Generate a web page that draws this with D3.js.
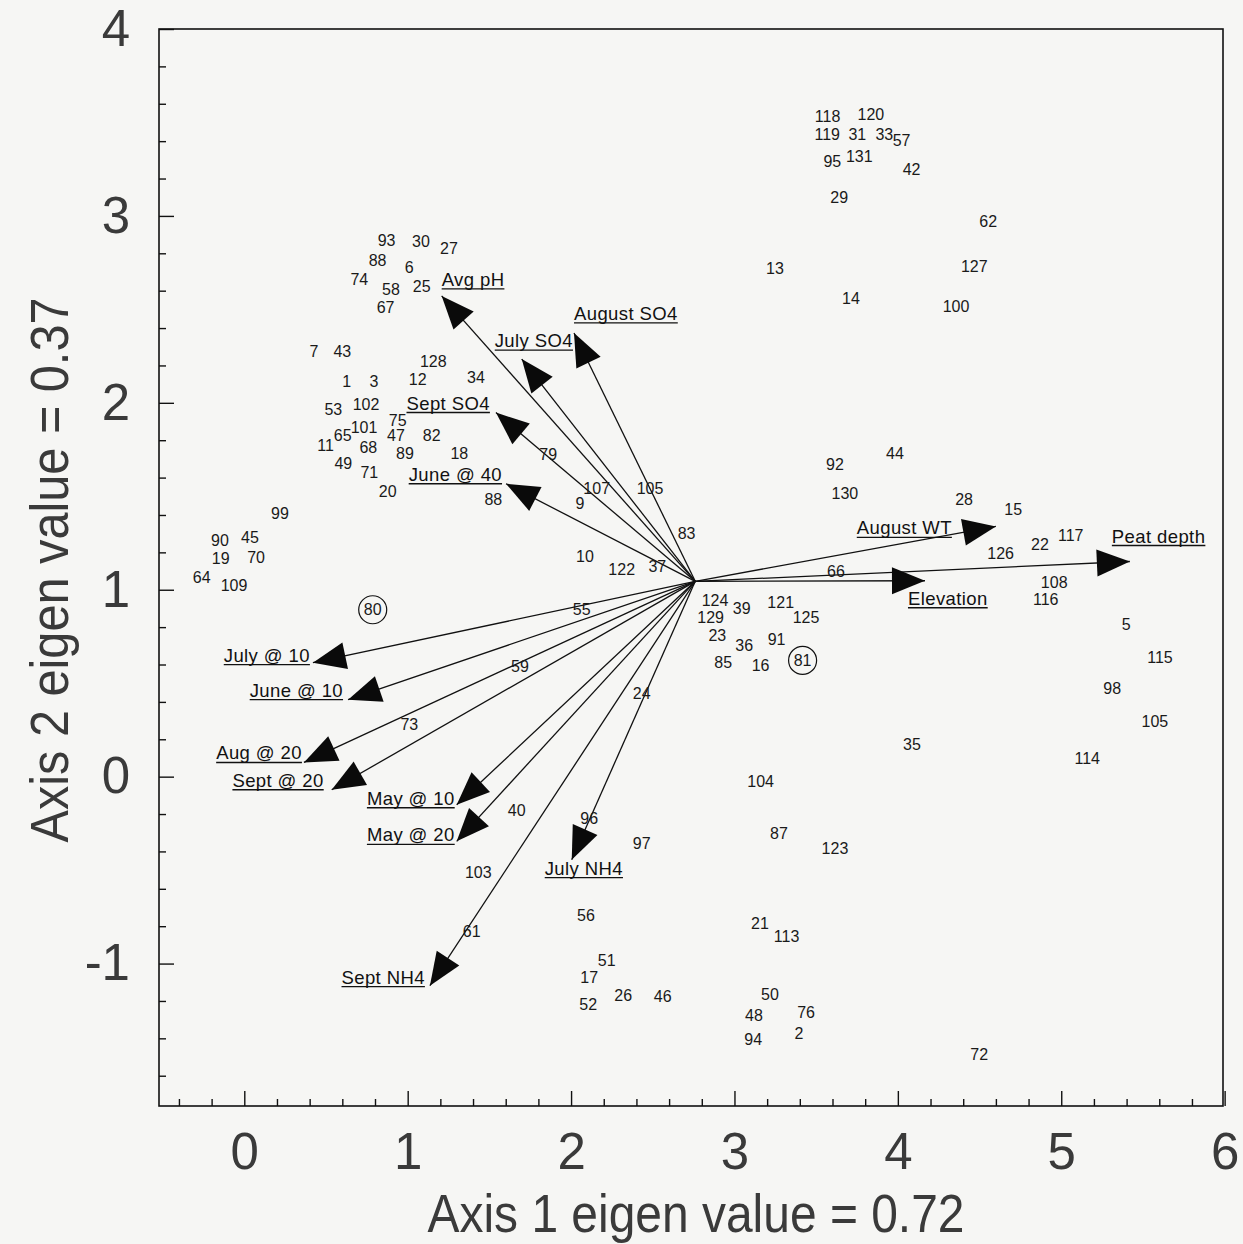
<!DOCTYPE html>
<html><head><meta charset="utf-8">
<script src="https://cdn.jsdelivr.net/npm/d3@7"></script>
<style>
html,body{margin:0;padding:0;background:#f6f6f4;}
svg{display:block;}
</style></head><body>
<svg id="chart" width="1243" height="1244"></svg>
<script>
// ---------- DATA ----------
const siteIds = ["118","120","119","31","33","57","95","131","42","29","62","13","127","14","100",
  "93","30","27","88","6","74","58","25","67","7","43","128","1","3","12","34","53","102","101","75",
  "65","47","82","11","68","89","18","79","49","71","20","88","99","90","45","19","70","64","109","80",
  "107","105","9","83","10","122","37","66","55","124","39","121","125","129","23","36","91","85","16","81",
  "24","59","73","104","40","96","97","87","123","103","56","21","113","61","51","17","26","46","52",
  "50","48","76","94","2",
  "92","44","130","28","15","126","22","117","108","116","5","115","98","105","35","114","72"];
const siteAxis1 = [3.570,3.835,3.568,3.752,3.917,4.023,3.599,3.764,4.084,3.641,4.553,3.248,4.468,3.713,4.356,
  0.871,1.081,1.253,0.816,1.010,0.704,0.898,1.086,0.865,0.427,0.600,1.157,0.627,0.794,1.061,1.418,0.545,0.745,0.733,0.939,
  0.602,0.928,1.147,0.498,0.759,0.983,1.316,1.860,0.606,0.765,0.878,1.524,0.218,-0.149,0.035,-0.144,0.072,-0.261,-0.063,0.786,
  2.157,2.483,2.054,2.707,2.085,2.310,2.528,3.621,2.065,2.881,3.044,3.283,3.438,2.854,2.895,3.060,3.258,2.931,3.160,3.417,
  2.432,1.687,1.010,3.160,1.667,2.111,2.432,3.272,3.615,1.432,2.091,3.156,3.319,1.392,2.218,2.111,2.319,2.561,2.105,
  3.217,3.119,3.438,3.115,3.395,
  3.615,3.982,3.676,4.405,4.706,4.629,4.870,5.058,4.957,4.905,5.398,5.604,5.312,5.573,4.086,5.159,4.498];
const siteAxis2 = [3.531,3.540,3.433,3.433,3.433,3.401,3.290,3.317,3.246,3.098,2.970,2.717,2.729,2.560,2.515,
  2.866,2.863,2.825,2.761,2.726,2.661,2.608,2.622,2.512,2.274,2.274,2.221,2.114,2.114,2.127,2.137,1.963,1.989,1.870,1.904,
  1.824,1.824,1.824,1.772,1.763,1.727,1.727,1.722,1.678,1.629,1.526,1.481,1.410,1.262,1.282,1.166,1.170,1.068,1.023,0.893,
  1.544,1.539,1.464,1.299,1.178,1.107,1.125,1.098,0.893,0.943,0.902,0.932,0.852,0.849,0.754,0.701,0.736,0.611,0.594,0.622,
  0.444,0.590,0.278,-0.025,-0.180,-0.226,-0.355,-0.305,-0.387,-0.515,-0.743,-0.786,-0.854,-0.827,-0.984,-1.073,-1.171,-1.175,-1.219,
  -1.166,-1.278,-1.260,-1.406,-1.374,
  1.668,1.731,1.517,1.485,1.428,1.196,1.241,1.289,1.039,0.947,0.813,0.638,0.474,0.296,0.171,0.095,-1.487];
const circledSites = ["80","81"];

const vectorNames = ["Avg pH","July SO4","August SO4","Sept SO4","June @ 40","July @ 10","June @ 10",
  "Aug @ 20","Sept @ 20","May @ 10","May @ 20","July NH4","Sept NH4","August WT","Elevation","Peat depth"];
const vectorAxis1 = [1.208,1.698,2.018,1.540,1.602,0.420,0.635,0.365,0.535,1.300,1.300,2.004,1.136,4.600,4.166,5.420];
const vectorAxis2 = [2.572,2.234,2.374,1.948,1.567,0.610,0.412,0.076,-0.070,-0.150,-0.346,-0.444,-1.118,1.339,1.048,1.151];
const vectorOrigin = [2.76, 1.045];

const xTickLabels = [0,1,2,3,4,5,6];
const yTickLabels = [-1,0,1,2,3,4];
const xTitle = "Axis 1 eigen value = 0.72";
const yTitle = "Axis 2 eigen value = 0.37";

// ---------- STYLE / LAYOUT ----------
const labelOffsets = {
  "Avg pH":[0,-10,"start"], "July SO4":[-27,-12,"start"], "August SO4":[0,-13,"start"],
  "Sept SO4":[-6,-3,"end"], "June @ 40":[-4,-3,"end"], "July @ 10":[-3,-1,"end"],
  "June @ 10":[-5,-3,"end"], "Aug @ 20":[-2,-3,"end"], "Sept @ 20":[-8,-3,"end"],
  "May @ 10":[-2,0,"end"], "May @ 20":[-2,0,"end"], "July NH4":[-27,15,"start"],
  "Sept NH4":[-5,-2,"end"], "August WT":[-44,8,"end"], "Elevation":[-17,24,"start"],
  "Peat depth":[-18,-19,"start"]
};
const narrow = "'Liberation Sans Narrow','Arial Narrow','Liberation Sans',Arial,sans-serif";
const sans = "'Liberation Sans',Arial,Helvetica,sans-serif";
const plainInt = d => String(d);

const svg = d3.select("#chart");
const x = d3.scaleLinear().domain([-0.522, 5.99]).range([159, 1223]);
const y = d3.scaleLinear().domain([-1.762, 4.0]).range([1106, 29]);
const [L, R] = x.range(), [B, T] = y.range();

// frame
svg.append("rect").attr("x", L).attr("y", T).attr("width", R - L).attr("height", B - T)
  .attr("fill", "none").attr("stroke", "#111").attr("stroke-width", 1.6);

const minorX = d3.range(-2, 30).map(i => i / 5).filter(v => Math.abs(v - Math.round(v)) > 1e-6);
const minorY = d3.range(-8, 20).map(i => i / 5).filter(v => Math.abs(v - Math.round(v)) > 1e-6);

function styleAxis(g) {
  g.select(".domain").remove();
  g.selectAll(".tick line").attr("stroke", "#111").attr("stroke-width", 1.4);
}
svg.append("g").attr("transform", `translate(0,${B})`)
  .call(d3.axisBottom(x).tickValues(minorX).tickSize(-7).tickFormat("")).call(styleAxis);
svg.append("g").attr("transform", `translate(0,${B})`)
  .call(d3.axisBottom(x).tickValues(xTickLabels).tickSize(-15).tickPadding(27).tickFormat(plainInt))
  .call(styleAxis)
  .selectAll("text").attr("font-family", narrow).attr("font-size", 51).attr("fill", "#3a3a3a");
svg.append("g").attr("transform", `translate(${L},0)`)
  .call(d3.axisLeft(y).tickValues(minorY).tickSize(-7).tickFormat("")).call(styleAxis);
svg.append("g").attr("transform", `translate(${L},0)`)
  .call(d3.axisLeft(y).tickValues(yTickLabels).tickSize(-15).tickPadding(29).tickFormat(plainInt))
  .call(styleAxis)
  .selectAll("text").attr("font-family", narrow).attr("font-size", 51).attr("fill", "#3a3a3a");

// axis titles
svg.append("text").attr("x", 696).attr("y", 1232).attr("text-anchor", "middle")
  .attr("font-family", narrow).attr("font-size", 54).attr("fill", "#3a3a3a")
  .attr("textLength", 537).attr("lengthAdjust", "spacingAndGlyphs").text(xTitle);
svg.append("text").attr("transform", "translate(68,570) rotate(-90)").attr("text-anchor", "middle")
  .attr("font-family", narrow).attr("font-size", 54).attr("fill", "#3a3a3a")
  .attr("textLength", 545).attr("lengthAdjust", "spacingAndGlyphs").text(yTitle);

// vectors
const ox = x(vectorOrigin[0]), oy = y(vectorOrigin[1]);
const vec = vectorNames.map((n, i) => ({ name: n, tx: x(vectorAxis1[i]), ty: y(vectorAxis2[i]) }));
const vg = svg.append("g");
vg.selectAll("line").data(vec).join("line")
  .attr("x1", ox).attr("y1", oy).attr("x2", d => d.tx).attr("y2", d => d.ty)
  .attr("stroke", "#111").attr("stroke-width", 1.3);
vg.selectAll("path").data(vec).join("path")
  .attr("d", d => {
    const dx = d.tx - ox, dy = d.ty - oy, len = Math.hypot(dx, dy);
    const ux = dx / len, uy = dy / len, nx = -uy, ny = ux;
    const bx = d.tx - 33 * ux, by = d.ty - 33 * uy;
    return `M${d.tx},${d.ty}L${bx + 13.5 * nx},${by + 13.5 * ny}L${bx - 13.5 * nx},${by - 13.5 * ny}Z`;
  })
  .attr("fill", "#0a0a0a");
vec.forEach(d => {
  const o = labelOffsets[d.name];
  const t = vg.append("text").attr("x", d.tx + o[0]).attr("y", d.ty + o[1])
    .attr("text-anchor", o[2]).attr("font-family", sans).attr("font-size", 18.5)
    .attr("letter-spacing", 0.4).attr("fill", "#111").text(d.name);
  const bb = t.node().getBBox();
  vg.append("line").attr("x1", bb.x).attr("x2", bb.x + bb.width)
    .attr("y1", d.ty + o[1] + 3).attr("y2", d.ty + o[1] + 3)
    .attr("stroke", "#111").attr("stroke-width", 1.4);
});

// sites
const sites = siteIds.map((id, i) => ({ id, a1: siteAxis1[i], a2: siteAxis2[i] }));
const sg = svg.append("g");
sg.selectAll("text").data(sites).join("text")
  .attr("x", d => x(d.a1)).attr("y", d => y(d.a2))
  .attr("text-anchor", "middle").attr("dominant-baseline", "central")
  .attr("font-family", narrow).attr("font-size", 16).attr("fill", "#1a1a1a")
  .text(d => d.id);
sg.selectAll("circle").data(sites.filter(d => circledSites.includes(d.id))).join("circle")
  .attr("cx", d => x(d.a1)).attr("cy", d => y(d.a2)).attr("r", 14)
  .attr("fill", "none").attr("stroke", "#111").attr("stroke-width", 1.2);
</script>
</body></html>
